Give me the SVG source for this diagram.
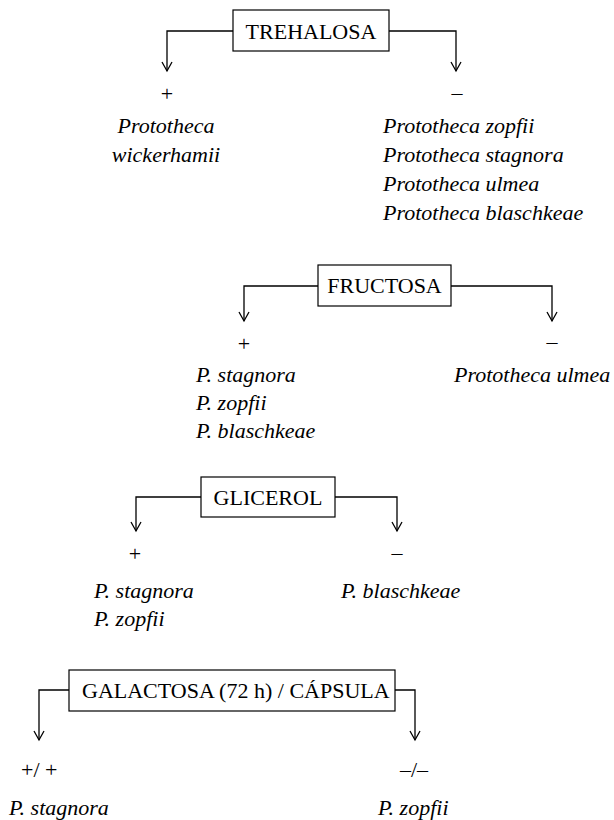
<svg xmlns="http://www.w3.org/2000/svg" width="614" height="820" viewBox="0 0 614 820">
  <style>
    text { font-family: "Liberation Serif", "Times New Roman", serif; font-size: 22px; fill: #000; }
    .box { fill: #fff; stroke: #000; stroke-width: 1.2; }
    .conn { fill: none; stroke: #000; stroke-width: 1.3; }
    .sp { font-style: italic; }
    .mid { text-anchor: middle; }
  </style>
  <defs>
    <marker id="arr" viewBox="0 0 12 12" markerUnits="userSpaceOnUse" markerWidth="12" markerHeight="12" refX="10" refY="6" orient="auto" overflow="visible">
      <path d="M1,1 L10,6 L1,11" fill="none" stroke="#000" stroke-width="1.3"/>
    </marker>
  </defs>
  <rect width="614" height="820" fill="#fff"/>

  <g id="connectors">
    <path class="conn" d="M233,31 H167 V71" marker-end="url(#arr)"/>
    <path class="conn" d="M389,31 H456 V71" marker-end="url(#arr)"/>
    <path class="conn" d="M318,286 H244 V321" marker-end="url(#arr)"/>
    <path class="conn" d="M451,286 H552 V321" marker-end="url(#arr)"/>
    <path class="conn" d="M201,497 H136 V531" marker-end="url(#arr)"/>
    <path class="conn" d="M335,497 H397 V531" marker-end="url(#arr)"/>
    <path class="conn" d="M69,690 H39 V740" marker-end="url(#arr)"/>
    <path class="conn" d="M395,690 H415 V740" marker-end="url(#arr)"/>
  </g>

  <g id="trehalosa">
    <rect class="box" x="233" y="10" width="156" height="41"/>
    <text class="mid" x="311" y="38.5">TREHALOSA</text>
  </g>
  <g id="trehalosa-pos">
    <text class="mid" x="167" y="100.5">+</text>
    <text class="sp mid" x="166" y="133">Prototheca</text>
    <text class="sp mid" x="166" y="162">wickerhamii</text>
  </g>
  <g id="trehalosa-neg">
    <text class="mid" x="457" y="99.5">–</text>
    <text class="sp" x="383" y="133">Prototheca zopfii</text>
    <text class="sp" x="383" y="162">Prototheca stagnora</text>
    <text class="sp" x="383" y="191">Prototheca ulmea</text>
    <text class="sp" x="383" y="220">Prototheca blaschkeae</text>
  </g>

  <g id="fructosa">
    <rect class="box" x="318" y="265" width="133" height="41"/>
    <text class="mid" x="384.5" y="293">FRUCTOSA</text>
  </g>
  <g id="fructosa-pos">
    <text class="mid" x="244" y="350.5">+</text>
    <text class="sp" x="196" y="382">P. stagnora</text>
    <text class="sp" x="196" y="410">P. zopfii</text>
    <text class="sp" x="196" y="438">P. blaschkeae</text>
  </g>
  <g id="fructosa-neg">
    <text class="mid" x="552" y="349">–</text>
    <text class="sp" x="454" y="382">Prototheca ulmea</text>
  </g>

  <g id="glicerol">
    <rect class="box" x="201" y="477" width="134" height="40"/>
    <text class="mid" x="268" y="504.5">GLICEROL</text>
  </g>
  <g id="glicerol-pos">
    <text class="mid" x="135" y="560.5">+</text>
    <text class="sp" x="94" y="598">P. stagnora</text>
    <text class="sp" x="94" y="626">P. zopfii</text>
  </g>
  <g id="glicerol-neg">
    <text class="mid" x="397" y="560">–</text>
    <text class="sp" x="341" y="598">P. blaschkeae</text>
  </g>

  <g id="galactosa">
    <rect class="box" x="69" y="670" width="326" height="41"/>
    <text x="82" y="698">GALACTOSA (72 h) / CÁPSULA</text>
  </g>
  <g id="galactosa-pos">
    <text x="21" y="777">+/ +</text>
    <text class="sp" x="9" y="815">P. stagnora</text>
  </g>
  <g id="galactosa-neg">
    <text x="400" y="777">–/–</text>
    <text class="sp" x="378" y="815">P. zopfii</text>
  </g>
</svg>
